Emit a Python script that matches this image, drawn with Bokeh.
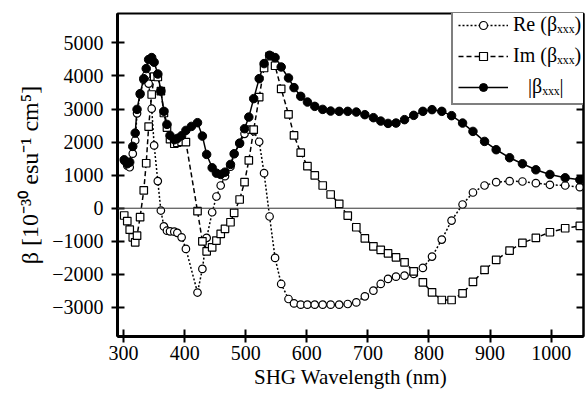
from bokeh.plotting import figure
from bokeh.models import Range1d, LinearAxis, FixedTicker, Span, Legend, LegendItem, Title
from bokeh.embed import file_html
from bokeh.resources import INLINE

# SHG wavelength (nm) for |beta|
wl_abs = [301, 306, 310, 315, 319, 322, 327, 333, 337, 341,
          346, 350, 356, 361, 366, 371, 376, 383, 388, 395,
          402, 411, 421, 429, 436, 445, 452, 459, 466, 475,
          481, 490, 498, 505, 513, 522, 530, 539, 548, 558,
          570, 579, 590, 601, 613, 626, 639, 653, 667, 681,
          695, 709, 721, 733, 746, 760, 775, 790, 805, 821,
          837, 855, 872, 891, 910, 932, 953, 975, 998, 1023, 1047]
abs_beta = [1466, 1345, 1394, 1870, 2273, 2990, 3466, 3920, 4224, 4497,
            4557, 4415, 4060, 3545, 2930, 2536, 2203, 2072, 2112, 2194,
            2354, 2475, 2587, 2182, 1627, 1224, 1061, 1021, 1091, 1324,
            1648, 1970, 2405, 2757, 3315, 3920, 4375, 4627, 4557, 4272,
            3940, 3648, 3385, 3212, 3081, 2990, 2939, 2930, 2930, 2909,
            2830, 2739, 2636, 2566, 2576, 2679, 2809, 2930, 2982, 2930,
            2800, 2576, 2324, 2021, 1770, 1527, 1345, 1163, 1021, 921, 860]

# SHG wavelength (nm) for Re / Im
wl_ri = [301, 306, 310, 315, 319, 322, 327, 333, 337, 341,
         346, 350, 356, 361, 366, 371, 376, 383, 388, 395,
         402, 421, 429, 436, 445, 452, 459, 466, 475, 481,
         490, 498, 505, 513, 522, 530, 539, 548, 558, 570,
         579, 590, 601, 613, 626, 639, 653, 667, 681, 695,
         709, 721, 733, 746, 760, 775, 790, 805, 821, 837,
         855, 872, 891, 910, 932, 953, 975, 998, 1023, 1047]
re_beta = [1440, 1290, 1240, 1650, 2050, 2870, 3440, 3880, 4020, 3770,
           3010, 1900, 820, -70, -550, -680, -700, -710, -745, -880,
           -1230, -2550, -1836, -897, -121, 355, 688, 970, 1254, 1640,
           1950, 2250, 2380, 2330, 2010, 1061, -251, -1503, -2291, -2745,
           -2879, -2918, -2918, -2918, -2918, -2918, -2918, -2897, -2848, -2666,
           -2494, -2291, -2139, -2070, -2039, -1988, -1806, -1463, -948, -373,
           112, 475, 688, 788, 818, 809, 758, 709, 688, 636]
im_beta = [-220, -390, -650, -880, -1030, -830, -270, 540, 1360, 2470,
           3440, 3980, 3970, 3540, 2880, 2440, 2090, 1950, 1980, 2010,
           2000, -90, -1000, -1303, -1182, -979, -776, -624, -424, -139,
           264, 788, 1445, 2375, 3363, 4242, 4600, 4310, 3610, 2840,
           2203, 1680, 1273, 991, 688, 415, 133, -221, -576, -909,
           -1151, -1261, -1363, -1485, -1636, -1909, -2242, -2545, -2776, -2776,
           -2575, -2230, -1866, -1564, -1282, -1049, -897, -727, -606, -533]

x_ticks = [300, 400, 500, 600, 700, 800, 900, 1000]
y_ticks = [-3000, -2000, -1000, 0, 1000, 2000, 3000, 4000, 5000]

x_label = "SHG Wavelength (nm)"
y_label = "β [10⁻³⁰ esu⁻¹ cm⁵]"
legend_labels = ["Re (βₓₓₓ)", "Im (βₓₓₓ)", "\u00a0\u00a0\u00a0|βₓₓₓ|"]

FONT = "Liberation Serif"

p = figure(width=585, height=398, output_backend="svg", toolbar_location=None,
           x_range=Range1d(290, 1053), y_range=Range1d(-3880, 5890),
           min_border_left=117, min_border_right=2, min_border_top=13,
           min_border_bottom=62, background_fill_color="white",
           border_fill_color="white")
p.xgrid.visible = False
p.ygrid.visible = False
p.outline_line_color = "black"
p.outline_line_width = 2

for ax, ticks, nminor in ((p.xaxis[0], x_ticks, 5), (p.yaxis[0], y_ticks, 2)):
    ax.ticker = FixedTicker(ticks=ticks, num_minor_ticks=nminor)
    ax.axis_line_width = 3
    ax.axis_line_color = "black"
    ax.major_tick_in = 7
    ax.major_tick_out = 6
    ax.major_tick_line_width = 2
    ax.minor_tick_in = 4
    ax.minor_tick_out = 0
    ax.minor_tick_line_width = 1.5
    ax.major_label_text_font = FONT
    ax.major_label_text_font_size = "20px"
    ax.major_label_text_color = "black"

p.xaxis[0].major_label_standoff = 3
p.yaxis[0].major_label_standoff = 8
p.xaxis[0].axis_label = None

p.yaxis[0].axis_label = y_label
p.yaxis[0].axis_label_text_font = FONT
p.yaxis[0].axis_label_text_font_size = "24px"
p.yaxis[0].axis_label_text_font_style = "normal"
p.yaxis[0].axis_label_text_color = "black"
p.yaxis[0].axis_label_standoff = 6

# right axis with inward ticks only
rax = LinearAxis(ticker=FixedTicker(ticks=y_ticks, num_minor_ticks=2))
rax.major_label_overrides = {t: "" for t in y_ticks}
rax.major_label_standoff = 0
rax.major_tick_in = 7
rax.major_tick_out = 0
rax.minor_tick_in = 4
rax.minor_tick_out = 0
rax.major_tick_line_width = 2
rax.axis_line_width = 2
p.add_layout(rax, "right")

# x axis title, shifted right as in the original
xt = Title(text=x_label, align="center", offset=27, text_font=FONT,
           text_font_size="21px", text_font_style="normal", text_color="black",
           standoff=0)
p.add_layout(xt, "below")

p.add_layout(Span(location=0, dimension="width", line_color="#333333", line_width=1))

r_re_line = p.line(wl_ri, re_beta, line_color="black", line_width=1.5, line_dash="2 2")
r_im_line = p.line(wl_ri, im_beta, line_color="black", line_width=1.5, line_dash="5 3")
r_abs_line = p.line(wl_abs, abs_beta, line_color="black", line_width=1.5)
r_re_pts = p.scatter(wl_ri, re_beta, marker="circle", size=7.5, fill_color="white",
                     line_color="black", line_width=1.2)
r_im_pts = p.scatter(wl_ri, im_beta, marker="square", size=7.5, fill_color="white",
                     line_color="black", line_width=1.2)
r_abs_pts = p.scatter(wl_abs, abs_beta, marker="circle", size=8.5, fill_color="black",
                      line_color="black")

legend = Legend(items=[
    LegendItem(label=legend_labels[0], renderers=[r_re_line, r_re_pts]),
    LegendItem(label=legend_labels[1], renderers=[r_im_line, r_im_pts]),
    LegendItem(label=legend_labels[2], renderers=[r_abs_line, r_abs_pts]),
], location=(334, 231))
legend.label_text_font = FONT
legend.label_text_font_size = "20px"
legend.label_text_color = "black"
legend.glyph_width = 50
legend.glyph_height = 20
legend.label_height = 20
legend.spacing = 8
legend.padding = 5
legend.margin = 0
legend.label_standoff = 5
legend.border_line_color = "black"
legend.border_line_width = 2.5
legend.background_fill_color = "white"
legend.background_fill_alpha = 1
p.add_layout(legend)

open("out.html", "w").write(file_html(p, INLINE))
